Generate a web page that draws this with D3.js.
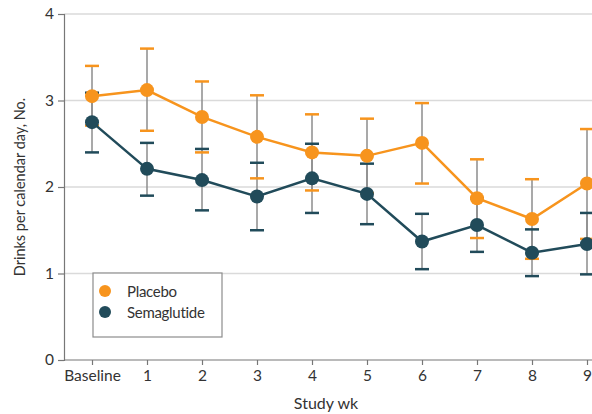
<!DOCTYPE html>
<html>
<head>
<meta charset="utf-8">
<script src="https://cdn.jsdelivr.net/npm/d3@7"></script>
<style>
  html, body { margin: 0; padding: 0; background: #fff; }
  svg text { font-family: Lato, "Open Sans", sans-serif; fill: #333; }
</style>
</head>
<body>
<svg id="chart" width="592" height="414"></svg>
<script>
// categories (study weeks)
var weeks = ["Baseline", "1", "2", "3", "4", "5", "6", "7", "8", "9"];

// placebo: mean, lower and upper error bar
var placeboMean = [3.05, 3.12, 2.81, 2.58, 2.40, 2.36, 2.51, 1.87, 1.63, 2.04];
var placeboLow  = [2.71, 2.65, 2.40, 2.10, 1.96, 1.93, 2.04, 1.41, 1.17, 1.40];
var placeboHigh = [3.40, 3.60, 3.22, 3.06, 2.84, 2.79, 2.97, 2.32, 2.09, 2.67];

// semaglutide: mean, lower and upper error bar
var semaMean = [2.75, 2.21, 2.08, 1.89, 2.10, 1.92, 1.37, 1.56, 1.24, 1.34];
var semaLow  = [2.40, 1.90, 1.73, 1.50, 1.70, 1.57, 1.05, 1.25, 0.97, 0.99];
var semaHigh = [3.09, 2.51, 2.44, 2.28, 2.50, 2.27, 1.69, 1.87, 1.51, 1.70];

var yTicks = [0, 1, 2, 3, 4];

var orange = "#f7941d";
var navy = "#214b5a";

var svg = d3.select("#chart");
var mLeft = 64, mTop = 14, mBottom = 360;

var x = d3.scalePoint().domain(weeks).range([92, 587]);
var y = d3.scaleLinear().domain([0, 4]).range([mBottom, mTop]);

// gridlines
svg.append("g")
  .selectAll("line")
  .data(yTicks.filter(function (d) { return d > 0; }))
  .join("line")
  .attr("x1", mLeft).attr("x2", 592)
  .attr("y1", function (d) { return y(d); })
  .attr("y2", function (d) { return y(d); })
  .attr("stroke", "#dadada")
  .attr("stroke-width", 1.5);

// y axis
var yAxis = svg.append("g")
  .attr("transform", "translate(" + mLeft + ",0)")
  .call(d3.axisLeft(y).tickValues(yTicks).tickFormat(d3.format("d")).tickSize(6).tickPadding(4));
yAxis.select(".domain").attr("stroke", "#777").attr("stroke-width", 1.2);
yAxis.selectAll(".tick line").attr("stroke", "#777").attr("stroke-width", 1.2);
yAxis.selectAll("text").attr("font-size", 15.5).attr("fill", "#333")
  .style("font-family", "Lato, sans-serif");

// x axis
var xAxis = svg.append("g")
  .attr("transform", "translate(0," + mBottom + ")")
  .call(d3.axisBottom(x).tickSize(5).tickPadding(5));
xAxis.select(".domain").attr("d", "M" + mLeft + ",0H592").attr("stroke", "#777").attr("stroke-width", 1.2);
xAxis.selectAll(".tick line").attr("stroke", "#777").attr("stroke-width", 1.2);
xAxis.selectAll("text").attr("font-size", 15.5).attr("fill", "#333")
  .style("font-family", "Lato, sans-serif");

// axis titles
svg.append("text")
  .attr("transform", "translate(25," + y(2) + ") rotate(-90)")
  .attr("text-anchor", "middle")
  .attr("font-size", 14.5)
  .text("Drinks per calendar day, No.");

svg.append("text")
  .attr("x", 326).attr("y", 409)
  .attr("text-anchor", "middle")
  .attr("font-size", 16)
  .text("Study wk");

function series(mean, low, high, color) {
  return weeks.map(function (w, i) {
    return { week: w, mean: mean[i], low: low[i], high: high[i], color: color };
  });
}
var placebo = series(placeboMean, placeboLow, placeboHigh, orange);
var sema = series(semaMean, semaLow, semaHigh, navy);
var all = placebo.concat(sema);

// error bar stems
svg.append("g")
  .selectAll("line")
  .data(all)
  .join("line")
  .attr("x1", function (d) { return x(d.week); })
  .attr("x2", function (d) { return x(d.week); })
  .attr("y1", function (d) { return y(d.low); })
  .attr("y2", function (d) { return y(d.high); })
  .attr("stroke", "#8c8c8c")
  .attr("stroke-width", 1.5);

// caps
var capW = 7;
var caps = [];
all.forEach(function (d) {
  caps.push({ week: d.week, v: d.low, color: d.color });
  caps.push({ week: d.week, v: d.high, color: d.color });
});
svg.append("g")
  .selectAll("line")
  .data(caps)
  .join("line")
  .attr("x1", function (d) { return x(d.week) - capW; })
  .attr("x2", function (d) { return x(d.week) + capW; })
  .attr("y1", function (d) { return y(d.v); })
  .attr("y2", function (d) { return y(d.v); })
  .attr("stroke", function (d) { return d.color; })
  .attr("stroke-width", 2.5);

// lines and dots
var line = d3.line()
  .x(function (d) { return x(d.week); })
  .y(function (d) { return y(d.mean); });

[placebo, sema].forEach(function (s) {
  svg.append("path")
    .datum(s)
    .attr("d", line)
    .attr("fill", "none")
    .attr("stroke", s[0].color)
    .attr("stroke-width", 2.5);
  svg.append("g")
    .selectAll("circle")
    .data(s)
    .join("circle")
    .attr("cx", function (d) { return x(d.week); })
    .attr("cy", function (d) { return y(d.mean); })
    .attr("r", 7)
    .attr("fill", s[0].color);
});

// legend
var legend = svg.append("g").attr("transform", "translate(93,273)");
legend.append("rect")
  .attr("width", 129).attr("height", 64)
  .attr("fill", "#fff")
  .attr("stroke", "#8c8c8c")
  .attr("stroke-width", 1.2);
[["Placebo", orange], ["Semaglutide", navy]].forEach(function (item, i) {
  var row = legend.append("g").attr("transform", "translate(0," + (18 + i * 21) + ")");
  row.append("circle").attr("cx", 12).attr("cy", 0).attr("r", 6).attr("fill", item[1]);
  row.append("text").attr("x", 34).attr("y", 5.5).attr("font-size", 15)
    .attr("letter-spacing", -0.3).text(item[0]);
});
</script>
</body>
</html>
